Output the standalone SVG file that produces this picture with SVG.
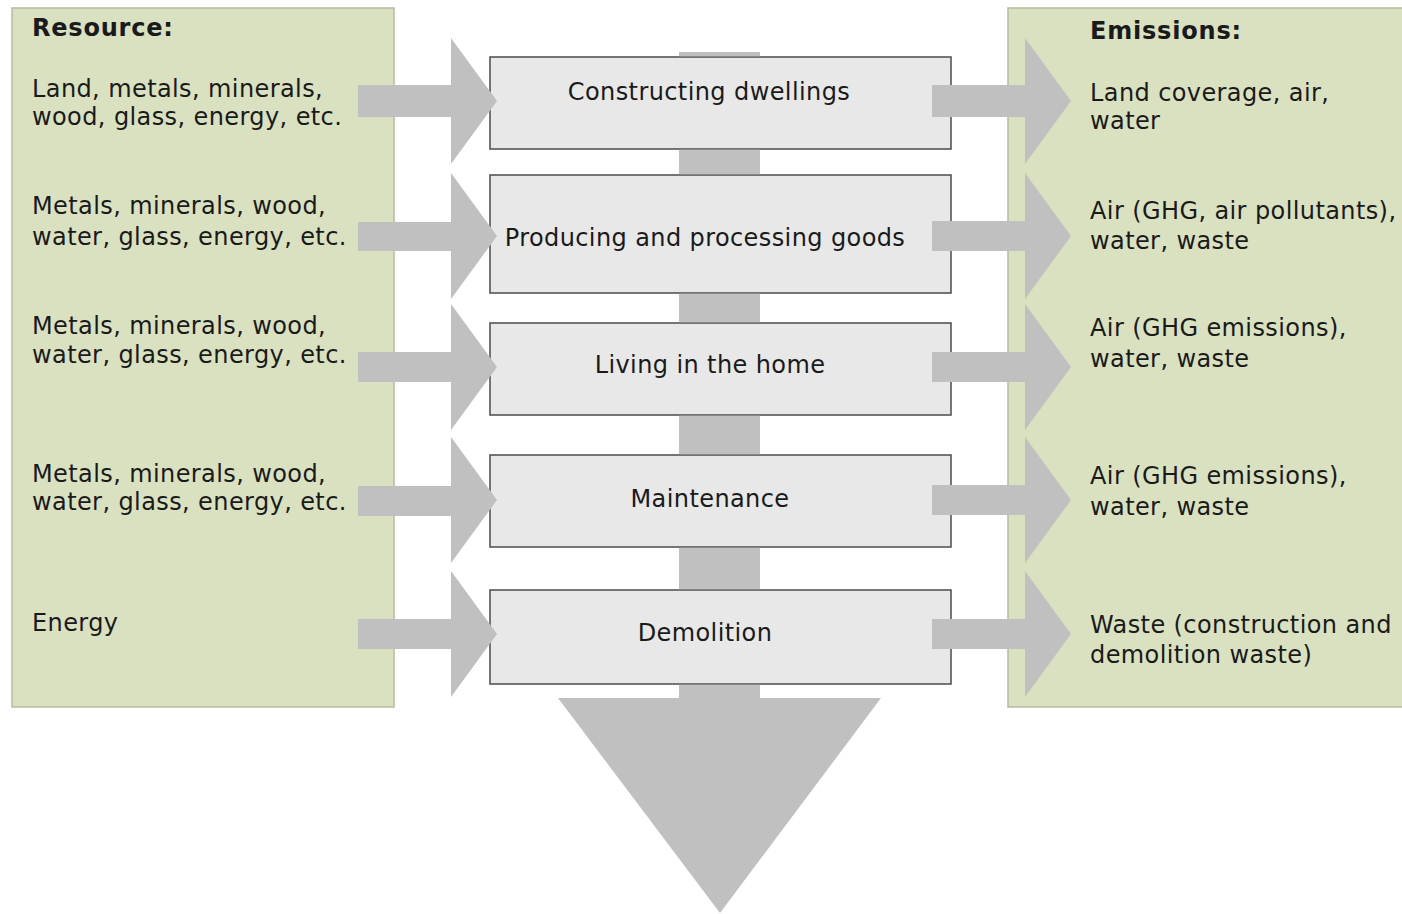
<svg xmlns="http://www.w3.org/2000/svg" width="1402" height="914" viewBox="0 0 1402 914">
<style>
.panel{fill:#d9e1c0;stroke:#b4bca2;stroke-width:1.5}
.box{fill:#e8e8e8;stroke:#555;stroke-width:1.6}
.flow{fill:#c0c0c0}
text{font-family:"DejaVu Sans","Liberation Sans",sans-serif;font-size:24px;letter-spacing:0.4px;fill:#1a1a1a}
.b{font-weight:bold;letter-spacing:0.8px}
.c{text-anchor:middle}
</style>
<rect width="1402" height="914" fill="#fff"/>
<g id="resources">
<rect class="panel" x="12" y="8" width="382" height="699"/>
<text class="b" x="32" y="36">Resource:</text>
<text x="32" y="97">Land, metals, minerals,</text>
<text x="32" y="125">wood, glass, energy, etc.</text>
<text x="32" y="214">Metals, minerals, wood,</text>
<text x="32" y="245">water, glass, energy, etc.</text>
<text x="32" y="334">Metals, minerals, wood,</text>
<text x="32" y="363">water, glass, energy, etc.</text>
<text x="32" y="482">Metals, minerals, wood,</text>
<text x="32" y="510">water, glass, energy, etc.</text>
<text x="32" y="631">Energy</text>
</g>
<g id="emissions">
<rect class="panel" x="1008" y="8" width="400" height="699"/>
<text class="b" x="1090" y="39">Emissions:</text>
<text x="1090" y="101">Land coverage, air,</text>
<text x="1090" y="129">water</text>
<text x="1090" y="219">Air (GHG, air pollutants),</text>
<text x="1090" y="249">water, waste</text>
<text x="1090" y="336">Air (GHG emissions),</text>
<text x="1090" y="367">water, waste</text>
<text x="1090" y="484">Air (GHG emissions),</text>
<text x="1090" y="515">water, waste</text>
<text x="1090" y="633">Waste (construction and</text>
<text x="1090" y="663">demolition waste)</text>
</g>
<g id="constructing">
<rect class="box" x="490" y="57" width="461" height="92"/>
<text class="c" x="709" y="100">Constructing dwellings</text>
</g>
<g id="producing">
<rect class="box" x="490" y="175" width="461" height="118"/>
<text class="c" x="705" y="246">Producing and processing goods</text>
</g>
<g id="living">
<rect class="box" x="490" y="323" width="461" height="92"/>
<text class="c" x="710" y="373">Living in the home</text>
</g>
<g id="maintenance">
<rect class="box" x="490" y="455" width="461" height="92"/>
<text class="c" x="710" y="507">Maintenance</text>
</g>
<g id="demolition">
<rect class="box" x="490" y="590" width="461" height="94"/>
<text class="c" x="705" y="641">Demolition</text>
</g>
<g id="connectors" class="flow">
<rect x="679" y="52" width="81" height="4.2"/>
<rect x="679" y="149.8" width="81" height="24.4"/>
<rect x="679" y="293.8" width="81" height="28.4"/>
<rect x="679" y="415.8" width="81" height="38.4"/>
<rect x="679" y="547.8" width="81" height="41.4"/>
<rect x="679" y="684.8" width="81" height="15"/>
<polygon points="558,698 881,698 720,913"/>
<polygon points="358,85 451,85 451,38 497,101 451,164 451,117 358,117"/>
<polygon points="358,222 451,222 451,173 497,236 451,299 451,251 358,251"/>
<polygon points="358,352 451,352 451,304 497,367 451,430 451,382 358,382"/>
<polygon points="358,486 451,486 451,437 497,500 451,563 451,516 358,516"/>
<polygon points="358,619 451,619 451,571 497,634 451,697 451,649 358,649"/>
<polygon points="932,85 1025,85 1025,38 1071,101 1025,164 1025,117 932,117"/>
<polygon points="932,221 1025,221 1025,173 1071,236 1025,299 1025,251 932,251"/>
<polygon points="932,352 1025,352 1025,304 1071,367 1025,430 1025,382 932,382"/>
<polygon points="932,485 1025,485 1025,437 1071,500 1025,563 1025,515 932,515"/>
<polygon points="932,619 1025,619 1025,571 1071,634 1025,697 1025,649 932,649"/>
</g>
</svg>
